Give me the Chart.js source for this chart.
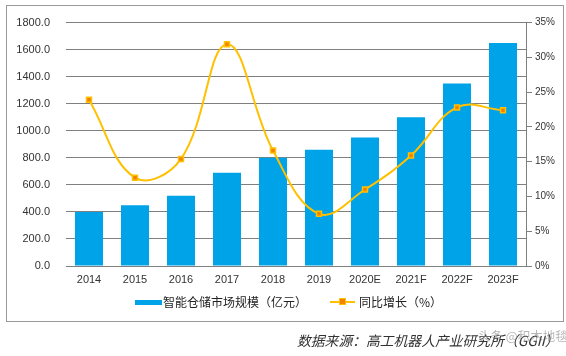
<!DOCTYPE html>
<html>
<head>
<meta charset="utf-8">
<script src="https://cdn.jsdelivr.net/npm/chart.js@4"></script>
<style>
html,body{margin:0;padding:0;background:#fff;}
#wrap{position:relative;width:566px;height:356px;overflow:hidden;}
#frame{position:absolute;left:6px;top:5px;width:556px;height:315px;border:1px solid #9a9a9a;}
canvas{position:absolute;left:0;top:0;}
.lg{position:absolute;font-family:"Noto Sans CJK SC","Noto Sans",sans-serif;font-size:12px;color:#222;line-height:14px;white-space:nowrap;}
#src{position:absolute;left:297px;top:331px;font-family:"Noto Sans CJK SC",sans-serif;font-size:13.8px;font-style:italic;color:#333;white-space:nowrap;line-height:18px;}
#wm{position:absolute;left:478px;top:328px;font-family:"Noto Sans CJK SC",sans-serif;font-size:12.5px;color:rgba(110,110,110,0.5);white-space:nowrap;line-height:16px;}
</style>
</head>
<body>
<div id="wrap">
<div id="frame"></div>
<canvas id="c" width="566" height="356"></canvas>
<div style="position:absolute;left:135px;top:300px;width:27px;height:5px;background:#00A3E8;"></div>
<div class="lg" style="left:163px;top:295px;">智能仓储市场规模（亿元）</div>
<div style="position:absolute;left:330px;top:301px;width:25px;height:2px;background:#FFC000;"></div>
<div style="position:absolute;left:339px;top:298px;width:5px;height:5px;background:#F08300;border:1px solid #FFC000;"></div>
<div class="lg" style="left:359px;top:295px;">同比增长（%）</div>
<div id="src">数据来源：高工机器人产业研究所（GGII）</div>
<div id="wm">头条 @积木地毯</div>
</div>
<script>
const categories = ["2014","2015","2016","2017","2018","2019","2020E","2021F","2022F","2023F"];
const marketSize = [400, 450, 520, 690, 800, 860, 950, 1100, 1350, 1650];
const growthRate = [23.9, 12.7, 15.4, 31.9, 16.6, 7.5, 11.0, 15.9, 22.8, 22.4];
const leftTicks = [0, 200, 400, 600, 800, 1000, 1200, 1400, 1600, 1800];
const rightTicks = [0, 5, 10, 15, 20, 25, 30, 35];

new Chart(document.getElementById('c'), {
  type: 'bar',
  data: {
    labels: categories,
    datasets: [
      {
        type: 'line',
        label: '同比增长（%）',
        data: growthRate,
        yAxisID: 'y1',
        borderColor: '#FFC000',
        borderWidth: 2,
        tension: 0.4,
        pointStyle: 'rect',
        pointRadius: 3.5,
        pointBorderWidth: 1.5,
        pointBackgroundColor: '#F08300',
        pointBorderColor: '#FFC000',
        order: 0
      },
      {
        type: 'bar',
        label: '智能仓储市场规模（亿元）',
        data: marketSize,
        yAxisID: 'y',
        backgroundColor: '#00A3E8',
        categoryPercentage: 1,
        barPercentage: 0.61,
        order: 1
      }
    ]
  },
  options: {
    responsive: false,
    animation: false,
    devicePixelRatio: 1,
    layout: { padding: { top: 19, left: 0, right: 0, bottom: 0 } },
    plugins: { legend: { display: false }, tooltip: { enabled: false } },
    scales: {
      x: {
        grid: { display: false, drawTicks: false },
        border: { display: false },
        ticks: { padding: 7, color: '#333', font: { family: 'Liberation Sans', size: 11 }, maxRotation: 0 },
        afterFit: s => { s.height = 90; }
      },
      y: {
        position: 'left',
        min: 0, max: 1800,
        afterBuildTicks: s => { s.ticks = leftTicks.map(v => ({ value: v })); },
        grid: { color: '#7f7f7f', lineWidth: 1, drawTicks: false },
        border: { display: false },
        ticks: { padding: 16, color: '#333', font: { family: 'Liberation Sans', size: 11 }, callback: v => v.toFixed(1) },
        afterFit: s => { s.width = 66; }
      },
      y1: {
        position: 'right',
        min: 0, max: 35,
        afterBuildTicks: s => { s.ticks = rightTicks.map(v => ({ value: v })); },
        grid: { drawOnChartArea: false, color: '#7f7f7f', tickLength: 6 },
        border: { display: true, color: '#7f7f7f' },
        ticks: { padding: 3, color: '#333', font: { family: 'Liberation Sans', size: 10 }, callback: v => v + '%' },
        afterFit: s => { s.width = 40; }
      }
    }
  }
});
</script>
</body>
</html>
